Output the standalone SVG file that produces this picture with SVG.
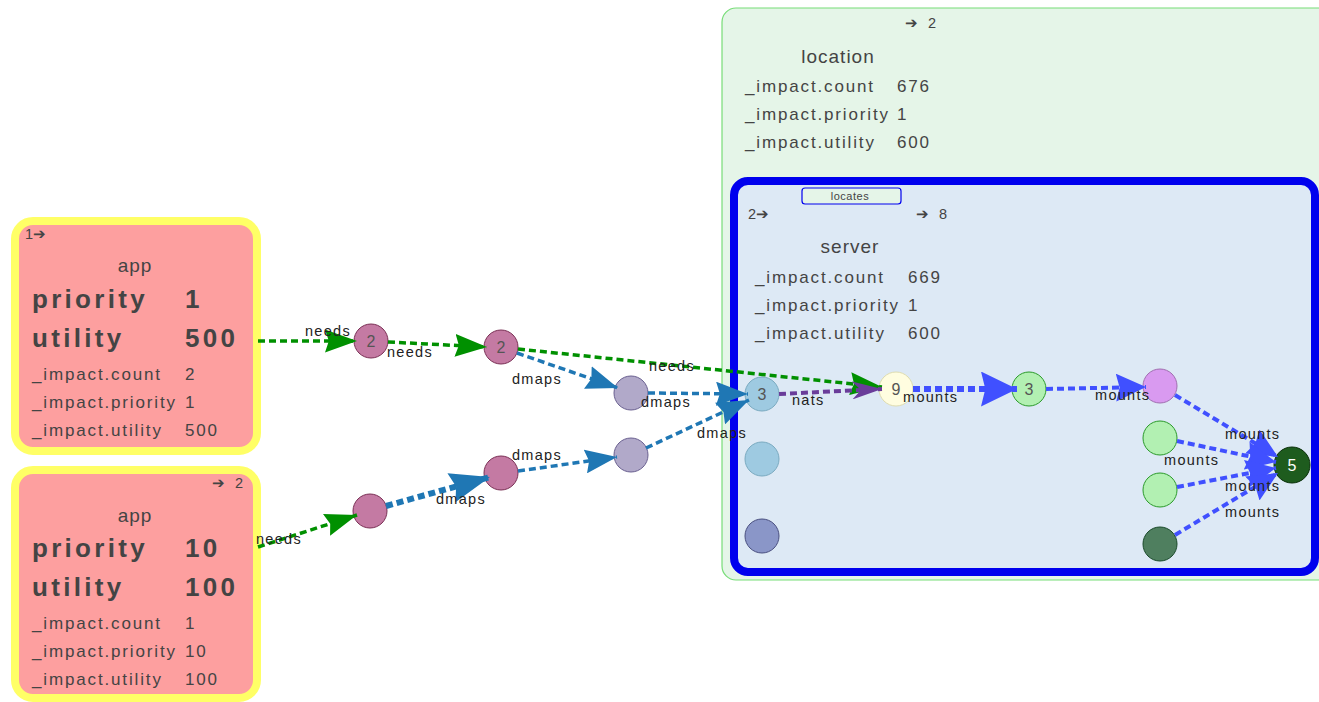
<svg xmlns="http://www.w3.org/2000/svg" width="1319" height="702" viewBox="0 0 1319 702">
<style>
text{font-family:"Liberation Sans",Arial,sans-serif;fill:#444}
.box{fill:#fd9f9f;stroke:#ffff66;stroke-width:8}
.sm{font-size:14.5px}
.title{font-size:19px;letter-spacing:1px;text-anchor:middle}
.big{font-size:26px;font-weight:bold;letter-spacing:3.3px}
.attr{font-size:17px;letter-spacing:1.85px}
.nd{stroke-width:1}
.nl{font-size:16px;text-anchor:middle;fill:#555}
.el{font-size:14.5px;letter-spacing:1.3px;fill:#222}
.e{fill:none;stroke-dasharray:7,4}
.g{stroke:#009000;stroke-width:3.5}
.b{stroke:#1f77b4;stroke-width:3.5}
.p{stroke:#6a3d9a;stroke-width:4}
.m{stroke:#4050ff;stroke-width:4}
</style>
<defs>
<marker id="ag" markerUnits="userSpaceOnUse" viewBox="0 0 10 10" preserveAspectRatio="none" refX="10" refY="5" markerWidth="32" markerHeight="23" orient="auto"><path d="M0,0 L10,5 L0,10 L1.2,5 z" fill="#009000"/></marker>
<marker id="ab" markerUnits="userSpaceOnUse" viewBox="0 0 10 10" preserveAspectRatio="none" refX="10" refY="5" markerWidth="32" markerHeight="24" orient="auto"><path d="M0,0 L10,5 L0,10 L1.2,5 z" fill="#1f77b4"/></marker>
<marker id="abb" markerUnits="userSpaceOnUse" viewBox="0 0 10 10" preserveAspectRatio="none" refX="10" refY="5" markerWidth="40" markerHeight="30" orient="auto"><path d="M0,0 L10,5 L0,10 L1.2,5 z" fill="#1f77b4"/></marker>
<marker id="ap" markerUnits="userSpaceOnUse" viewBox="0 0 10 10" preserveAspectRatio="none" refX="10" refY="5" markerWidth="30" markerHeight="18" orient="auto"><path d="M0,0 L10,5 L0,10 L3,5 z" fill="#6a3d9a"/></marker>
<marker id="am" markerUnits="userSpaceOnUse" viewBox="0 0 10 10" preserveAspectRatio="none" refX="10" refY="5" markerWidth="30" markerHeight="28" orient="auto"><path d="M0,0 L10,5 L0,10 L1.2,5 z" fill="#4050ff"/></marker>
<marker id="amb" markerUnits="userSpaceOnUse" viewBox="0 0 10 10" preserveAspectRatio="none" refX="10" refY="5" markerWidth="36" markerHeight="35" orient="auto"><path d="M0,0 L10,5 L0,10 L1.2,5 z" fill="#4050ff"/></marker>
</defs>

<g id="location">
<rect x="722" y="8" width="620" height="572" rx="14" fill="#e5f5e8" stroke="#77dd77" stroke-width="1.2"/>
<text class="sm" x="905" y="28" letter-spacing="3">➔ 2</text>
<text class="title" x="838" y="63">location</text>
<text class="attr" x="745" y="92">_impact.count</text><text class="attr" x="897" y="92">676</text>
<text class="attr" x="745" y="120">_impact.priority</text><text class="attr" x="897" y="120">1</text>
<text class="attr" x="745" y="148">_impact.utility</text><text class="attr" x="897" y="148">600</text>
</g>

<g id="server">
<rect x="734" y="181" width="581" height="391" rx="14" fill="#dde9f5" stroke="#0000ee" stroke-width="8"/>
<rect x="802" y="188" width="99" height="16" rx="3" fill="#e5f5e8" stroke="#0000ee" stroke-width="1.2"/>
<text x="850" y="200" font-size="11" text-anchor="middle" letter-spacing="0.5">locates</text>
<text class="sm" x="748" y="219">2➔</text>
<text class="sm" x="916" y="219" letter-spacing="3">➔ 8</text>
<text class="title" x="850" y="253">server</text>
<text class="attr" x="755" y="283">_impact.count</text><text class="attr" x="908" y="283">669</text>
<text class="attr" x="755" y="311">_impact.priority</text><text class="attr" x="908" y="311">1</text>
<text class="attr" x="755" y="339">_impact.utility</text><text class="attr" x="908" y="339">600</text>
</g>

<g id="app1">
<rect class="box" x="15" y="221" width="242" height="230" rx="18"/>
<text class="sm" x="25" y="239">1➔</text>
<text class="title" x="135" y="272" font-size="18">app</text>
<text class="big" x="32" y="308">priority</text><text class="big" x="185" y="308">1</text>
<text class="big" x="32" y="347">utility</text><text class="big" x="185" y="347">500</text>
<text class="attr" x="32" y="380">_impact.count</text><text class="attr" x="185" y="380">2</text>
<text class="attr" x="32" y="408">_impact.priority</text><text class="attr" x="185" y="408">1</text>
<text class="attr" x="32" y="436">_impact.utility</text><text class="attr" x="185" y="436">500</text>
</g>

<g id="app2">
<rect class="box" x="15" y="470" width="242" height="228" rx="18"/>
<text class="sm" x="212" y="488" letter-spacing="3">➔ 2</text>
<text class="title" x="135" y="522" font-size="18">app</text>
<text class="big" x="32" y="557">priority</text><text class="big" x="185" y="557">10</text>
<text class="big" x="32" y="596">utility</text><text class="big" x="185" y="596">100</text>
<text class="attr" x="32" y="629">_impact.count</text><text class="attr" x="185" y="629">1</text>
<text class="attr" x="32" y="657">_impact.priority</text><text class="attr" x="185" y="657">10</text>
<text class="attr" x="32" y="685">_impact.utility</text><text class="attr" x="185" y="685">100</text>
</g>

<g id="nA"><circle class="nd" cx="371" cy="341" r="17" fill="#c47aa3" stroke="#7a3055"/><text class="nl" x="371" y="347">2</text></g>
<g id="nB"><circle class="nd" cx="501" cy="347" r="17" fill="#c47aa3" stroke="#7a3055"/><text class="nl" x="501" y="353">2</text></g>
<g id="nC"><circle class="nd" cx="631" cy="393" r="17" fill="#b1a9c9" stroke="#6a6090"/></g>
<g id="nD"><circle class="nd" cx="370" cy="511" r="17" fill="#c47aa3" stroke="#7a3055"/></g>
<g id="nE"><circle class="nd" cx="501" cy="473" r="17" fill="#c47aa3" stroke="#7a3055"/></g>
<g id="nF"><circle class="nd" cx="631" cy="455" r="17" fill="#b1a9c9" stroke="#6a6090"/></g>
<g id="nG"><circle class="nd" cx="762" cy="394" r="17" fill="#9ecae1" stroke="#7aaac0"/><text class="nl" x="762" y="400">3</text></g>
<g id="nH"><circle class="nd" cx="762" cy="459" r="17" fill="#9ecae1" stroke="#7aaac0"/></g>
<g id="nI"><circle class="nd" cx="762" cy="536" r="17" fill="#8a96c8" stroke="#4a5080"/></g>
<g id="nJ"><circle class="nd" cx="896" cy="389" r="17" fill="#fffde0" stroke="#dedcb0"/><text class="nl" x="896" y="395">9</text></g>
<g id="nK"><circle class="nd" cx="1029" cy="389" r="17" fill="#b2f0b2" stroke="#2a9a2a"/><text class="nl" x="1029" y="395">3</text></g>
<g id="nL"><circle class="nd" cx="1160" cy="386" r="17" fill="#d99af0" stroke="#a070b0"/></g>
<g id="nM"><circle class="nd" cx="1160" cy="438" r="17" fill="#b2f0b2" stroke="#2a9a2a"/></g>
<g id="nN"><circle class="nd" cx="1160" cy="490" r="17" fill="#b2f0b2" stroke="#2a9a2a"/></g>
<g id="nO"><circle class="nd" cx="1160" cy="544" r="17" fill="#4f7f5f" stroke="#1a4a2a"/></g>
<g id="nP"><circle class="nd" cx="1292" cy="465" r="18" fill="#1e5c1e" stroke="#0a300a"/><text class="nl" x="1292" y="471" style="fill:#fff">5</text></g>

<g id="connectors">
<path class="e g" d="M258,341 L357,341" marker-end="url(#ag)"/>
<path class="e g" d="M388,342 L487,347" marker-end="url(#ag)"/>
<path class="e g" d="M518,349 L882,387" marker-end="url(#ag)"/>
<path class="e b" d="M517,353 L618,388" marker-end="url(#ab)"/>
<path class="e b" d="M648,393 L748,394" marker-end="url(#ab)"/>
<path class="e g" d="M258,547 L357,515" marker-end="url(#ag)"/>
<path class="e b" d="M386,506 L490,477" style="stroke-width:6" marker-end="url(#abb)"/>
<path class="e b" d="M518,471 L617,457" marker-end="url(#ab)"/>
<path class="e b" d="M646,448 L749,400" marker-end="url(#ab)"/>
<path class="e p" d="M779,394 L882,389" marker-end="url(#ap)"/>
<path class="e m" d="M913,389 L1017,389" style="stroke-width:6" marker-end="url(#amb)"/>
<path class="e m" d="M1046,389 L1146,387" marker-end="url(#am)"/>
<path class="e m" d="M1175,395 L1278,457" marker-end="url(#am)"/>
<path class="e m" d="M1177,441 L1276,462" marker-end="url(#am)"/>
<path class="e m" d="M1177,487 L1276,468" marker-end="url(#am)"/>
<path class="e m" d="M1175,535 L1278,473" marker-end="url(#am)"/>
<text class="el" x="305" y="336">needs</text>
<text class="el" x="387" y="357">needs</text>
<text class="el" x="649" y="371">needs</text>
<text class="el" x="512" y="384">dmaps</text>
<text class="el" x="641" y="407">dmaps</text>
<text class="el" x="256" y="544">needs</text>
<text class="el" x="436" y="504">dmaps</text>
<text class="el" x="512" y="460">dmaps</text>
<text class="el" x="697" y="438">dmaps</text>
<text class="el" x="792" y="405">nats</text>
<text class="el" x="903" y="402">mounts</text>
<text class="el" x="1095" y="400">mounts</text>
<text class="el" x="1225" y="439">mounts</text>
<text class="el" x="1164" y="465">mounts</text>
<text class="el" x="1225" y="491">mounts</text>
<text class="el" x="1225" y="517">mounts</text>
</g>
</svg>
